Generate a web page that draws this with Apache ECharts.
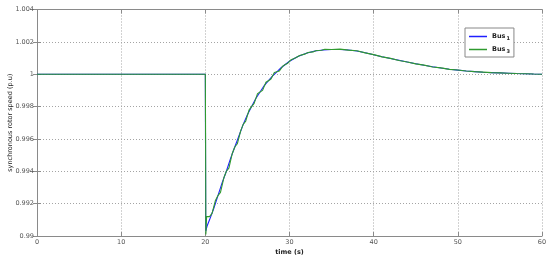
<!DOCTYPE html>
<html><head><meta charset="utf-8">
<script src="https://cdn.jsdelivr.net/npm/echarts@6/dist/echarts.min.js"></script>
<style>html,body{margin:0;padding:0;background:#fff}#c{width:550px;height:258px}</style>
</head><body><div id="c"></div>
<script>
var xTicks = [0, 10, 20, 30, 40, 50, 60];
var yTicks = [0.99, 0.992, 0.994, 0.996, 0.998, 1, 1.002, 1.004];
var seriesNames = ['Bus1', 'Bus3'];

var timeBus1 = [0, 20, 20.05, 20.2, 20.5, 21, 21.5, 22, 22.5, 23, 23.5, 24, 24.5, 25, 25.5, 26, 26.5, 27, 27.5, 28, 28.5, 29, 29.5, 30, 31, 32, 33, 34, 35, 36, 37, 38, 39, 40, 41, 42, 43, 44, 45, 46, 47, 48, 49, 50, 51, 52, 53, 54, 55, 56, 57, 58, 59, 60];
var speedBus1 = [1, 1, 0.9903, 0.9906, 0.9910, 0.9917, 0.9925, 0.9933, 0.9940, 0.9948, 0.9955, 0.9962, 0.9969, 0.9975, 0.9980, 0.9985, 0.9989, 0.9993, 0.9996, 0.9999, 1.00015, 1.0004, 1.0006, 1.0008, 1.0011, 1.0013, 1.00143, 1.0015, 1.00153, 1.00153, 1.0015, 1.00143, 1.00133, 1.0012, 1.00108, 1.00097, 1.00086, 1.00075, 1.00065, 1.00055, 1.00046, 1.00038, 1.00031, 1.00025, 1.0002, 1.00016, 1.00012, 1.0001, 1.00008, 1.00006, 1.00004, 1.00003, 1.00001, 1.0];

var timeBus3 = [0, 20, 20.03, 20.06, 20.1, 20.15, 20.5, 20.8, 21.2, 21.5, 21.8, 22.2, 22.5, 22.8, 23.2, 23.5, 23.8, 24.2, 24.5, 24.8, 25.2, 25.5, 25.8, 26.2, 26.5, 26.8, 27.2, 27.5, 27.8, 28.2, 28.5, 28.8, 29.2, 29.5, 29.8, 30.2, 30.8, 31.2, 31.8, 32.2, 32.8, 33.2, 33.8, 34.2, 35, 36, 37, 38, 39, 40, 41, 42, 43, 44, 45, 46, 47, 48, 49, 50, 51, 52, 53, 54, 55, 56, 57, 58, 59, 60];
var speedBus3 = [1, 1, 0.9960, 0.9901, 0.9905, 0.9912, 0.9912, 0.9914, 0.9922, 0.9925, 0.9927, 0.9936, 0.9940, 0.9942, 0.9951, 0.9955, 0.9957, 0.9965, 0.9969, 0.9971, 0.9978, 0.9980, 0.9982, 0.9988, 0.9989, 0.9990, 0.9995, 0.9996, 0.9997, 1.0001, 1.00015, 1.0002, 1.0005, 1.0006, 1.00068, 1.0009, 1.00103, 1.00116, 1.00124, 1.00134, 1.00138, 1.00147, 1.00148, 1.00154, 1.00153, 1.00155, 1.00149, 1.00145, 1.00132, 1.00121, 1.00107, 1.00098, 1.00085, 1.00076, 1.00064, 1.00056, 1.00045, 1.00039, 1.0003, 1.00026, 1.0002, 1.00016, 1.00013, 1.0001, 1.00008, 1.00006, 1.00004, 1.00003, 1.00001, 1.0];

function pairs(t, v) { return t.map(function (x, i) { return [x, v[i]]; }); }
function fmtY(v) { return String(parseFloat(v.toFixed(4))); }

var axisCol = '#8a8a8a';
var labelStyle = { fontFamily: 'DejaVu Sans', fontSize: 6.5, color: '#555' };
var gridLine = { show: true, lineStyle: { type: [1, 2], color: '#a4a4a4', width: 1 } };

var chart = echarts.init(document.getElementById('c'), null, { renderer: 'canvas' });
chart.setOption({
  animation: false,
  backgroundColor: '#fff',
  grid: { left: 37, right: 8, top: 9.5, bottom: 22, containLabel: false, outerBoundsMode: 'none' },
  legend: {
    orient: 'vertical', left: 465, top: 28,
    backgroundColor: '#fff', borderColor: '#888', borderWidth: 1, borderRadius: 0,
    padding: [5, 4, 3, 4], itemGap: 5, itemWidth: 18, itemHeight: 1.5, icon: 'rect',
    data: seriesNames,
    formatter: function (n) { return '{b|Bus}{s|' + n.slice(3) + '}'; },
    textStyle: {
      rich: {
        b: { fontFamily: 'DejaVu Sans', fontSize: 6.5, color: '#222', fontWeight: 'bold' },
        s: { fontFamily: 'DejaVu Sans', fontSize: 5, color: '#222', fontWeight: 'bold', verticalAlign: 'bottom', padding: [4, 0, 0, 1] }
      }
    }
  },
  xAxis: [{
    type: 'value', min: xTicks[0], max: xTicks[xTicks.length - 1], interval: 10,
    name: 'time (s)', nameLocation: 'middle', nameGap: 13, nameMoveOverlap: false,
    nameTextStyle: { fontFamily: 'DejaVu Sans', fontSize: 6.5, color: '#222', fontWeight: 'bold' },
    axisLine: { show: true, lineStyle: { color: axisCol, width: 1 } },
    axisTick: { show: true, inside: true, length: 4, lineStyle: { color: axisCol } },
    axisLabel: Object.assign({ margin: 3 }, labelStyle),
    splitLine: gridLine
  }, {
    type: 'value', position: 'top', min: xTicks[0], max: xTicks[xTicks.length - 1], interval: 10,
    axisLine: { show: true, lineStyle: { color: axisCol, width: 1 } },
    axisTick: { show: true, inside: true, length: 4, lineStyle: { color: axisCol } },
    axisLabel: { show: false }, splitLine: { show: false }
  }],
  yAxis: [{
    type: 'value', min: yTicks[0], max: yTicks[yTicks.length - 1], interval: 0.002,
    name: 'synchronous rotor speed (p.u)', nameLocation: 'middle', nameGap: 23, nameMoveOverlap: false,
    nameTextStyle: { fontFamily: 'DejaVu Sans', fontSize: 6.5, color: '#222' },
    axisLine: { show: true, lineStyle: { color: axisCol, width: 1 } },
    axisTick: { show: true, inside: true, length: 4, lineStyle: { color: axisCol } },
    axisLabel: Object.assign({ margin: 3, formatter: fmtY }, labelStyle),
    splitLine: gridLine
  }, {
    type: 'value', position: 'right', min: yTicks[0], max: yTicks[yTicks.length - 1], interval: 0.002,
    axisLine: { show: true, lineStyle: { color: axisCol, width: 1 } },
    axisTick: { show: true, inside: true, length: 4, lineStyle: { color: axisCol } },
    axisLabel: { show: false }, splitLine: { show: false }
  }],
  series: [{
    name: seriesNames[0], type: 'line', data: pairs(timeBus1, speedBus1),
    showSymbol: false, smooth: false, color: '#1f1fff',
    lineStyle: { color: '#1f1fff', width: 1.1 }
  }, {
    name: seriesNames[1], type: 'line', data: pairs(timeBus3, speedBus3),
    showSymbol: false, smooth: false, color: '#2f9a2f',
    lineStyle: { color: '#2f9a2f', width: 1.1 }
  }]
});
</script></body></html>
